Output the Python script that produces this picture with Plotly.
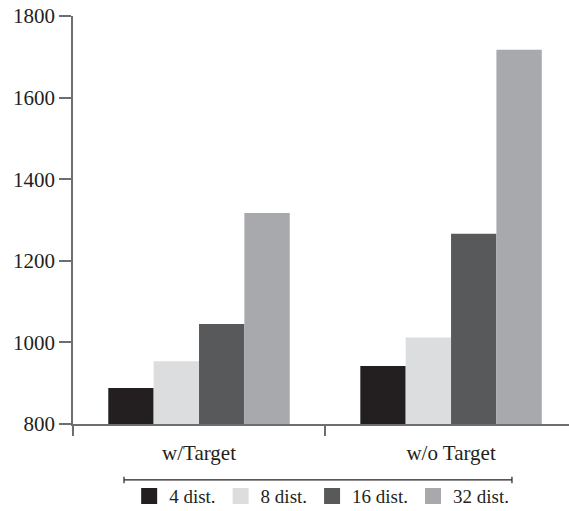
import plotly.graph_objects as go

categories = ["w/Target", "w/o Target"]
series_names = ["4 dist.", "8 dist.", "16 dist.", "32 dist."]
vals_4 = [888, 942]
vals_8 = [954, 1012]
vals_16 = [1045, 1266]
vals_32 = [1317, 1717]
colors = ["#231F20", "#DCDDDE", "#58595B", "#A7A9AC"]
y_ticks = [800, 1000, 1200, 1400, 1600, 1800]

FONT = "Liberation Serif"
AX = "#6D6E71"

fig = go.Figure()
for name, vals, c in zip(series_names, [vals_4, vals_8, vals_16, vals_32], colors):
    fig.add_trace(go.Bar(x=categories, y=vals, name=name, marker=dict(color=c, line=dict(width=0)),
                         showlegend=False))
for name, c in zip(series_names, colors):
    fig.add_trace(go.Scatter(x=[None], y=[None], mode="markers", name=name,
                             marker=dict(symbol="square", size=17, color=c, line=dict(width=0))))

fig.update_layout(
    width=569, height=511,
    margin=dict(l=73, r=0, t=16, b=87),
    paper_bgcolor="white", plot_bgcolor="white",
    barmode="group", bargap=0.28, bargroupgap=0,
    font=dict(family=FONT, size=19, color="#231F20"),
    showlegend=True,
    legend=dict(orientation="h", xref="container", yref="container",
                x=0.227, xanchor="left", y=0.029, yanchor="middle",
                bgcolor="rgba(0,0,0,0)",
                font=dict(family=FONT, size=19, color="#231F20"),
                traceorder="normal", itemwidth=30, tracegroupgap=0),
    xaxis=dict(type="category", range=[-0.5, 1.468], showline=True, linecolor=AX, linewidth=1.5,
               ticks="outside", tickson="boundaries", ticklen=10, tickcolor=AX, tickwidth=1.5,
               ticklabelstandoff=9, automargin=False,
               showgrid=False, tickfont=dict(family=FONT, size=21, color="#231F20")),
    yaxis=dict(range=[800, 1800], tickvals=y_ticks, showline=True, linecolor=AX, linewidth=1.5,
               ticks="outside", ticklen=12, tickcolor=AX, tickwidth=1.5, showgrid=False,
               zeroline=False, automargin=False, tickfont=dict(family=FONT, size=21, color="#231F20")),
)

# bracket above legend
x0, x1, yb = 0.1028, 0.885, -0.137
fig.add_shape(type="line", xref="paper", yref="paper", x0=x0, x1=x1, y0=yb, y1=yb,
              line=dict(color="#231F20", width=1.2))
for xx in (x0, x1):
    fig.add_shape(type="line", xref="paper", yref="paper", x0=xx, x1=xx, y0=yb - 0.008, y1=yb + 0.008,
                  line=dict(color="#231F20", width=1.2))

fig.write_html("out.html", config={"displayModeBar": False},
               post_script="document.body.style.margin='0';document.body.style.overflow='hidden';")
